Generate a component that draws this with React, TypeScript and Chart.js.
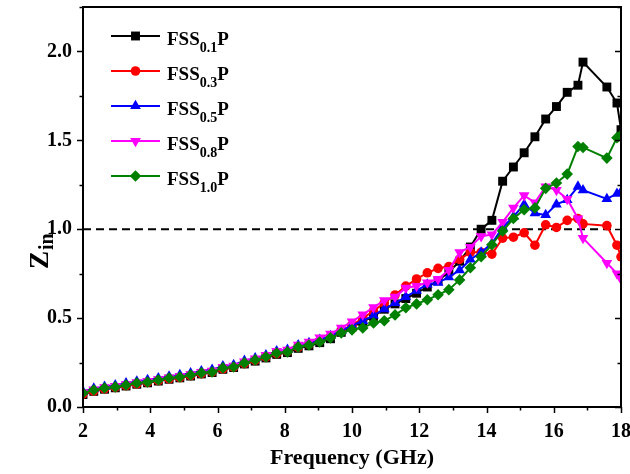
import React, { useEffect, useRef } from "react";
import { Chart, registerables } from "chart.js";

Chart.register(...registerables);

// Frequency (GHz)
const freq = [
  2.0, 2.32, 2.64, 2.96, 3.28, 3.6, 3.92, 4.24, 4.56, 4.88, 5.2, 5.52, 5.84, 6.16, 6.48, 6.8, 7.12,
  7.44, 7.76, 8.08, 8.4, 8.72, 9.04, 9.36, 9.68, 10.0, 10.32, 10.64, 10.96, 11.28, 11.6, 11.92,
  12.24, 12.56, 12.88, 13.2, 13.52, 13.84, 14.16, 14.48, 14.8, 15.12, 15.44, 15.76, 16.08, 16.4,
  16.72, 16.87, 17.58, 17.88, 18.0,
];

const fss01 = [
  0.07, 0.088, 0.1, 0.108, 0.118, 0.128, 0.136, 0.146, 0.156, 0.164, 0.174, 0.186, 0.194, 0.212,
  0.222, 0.242, 0.258, 0.276, 0.296, 0.306, 0.33, 0.344, 0.362, 0.384,
  0.42, 0.45, 0.48, 0.51, 0.55, 0.58, 0.61, 0.64,
  0.675, 0.71, 0.76, 0.82, 0.9, 1.0, 1.05, 1.27, 1.35, 1.43, 1.52, 1.62, 1.69, 1.77, 1.81, 1.94,
  1.8, 1.71, 1.56,
];
const fss03 = [
  0.072, 0.09, 0.102, 0.11, 0.12, 0.13, 0.138, 0.148, 0.158, 0.166, 0.176, 0.188, 0.196, 0.214,
  0.224, 0.244, 0.262, 0.28, 0.3, 0.312, 0.336, 0.352, 0.372, 0.396,
  0.43, 0.46, 0.5, 0.54, 0.585, 0.63, 0.68, 0.72,
  0.755, 0.78, 0.79, 0.83, 0.87, 0.87, 0.86, 0.95, 0.955, 0.98, 0.91, 1.025, 1.01, 1.05, 1.06,
  1.03, 1.02, 0.91, 0.845,
];
const fss05 = [
  0.088, 0.104, 0.114, 0.122, 0.134, 0.144, 0.152, 0.162, 0.172, 0.18, 0.19, 0.202, 0.21, 0.23,
  0.236, 0.26, 0.274, 0.292, 0.314, 0.322, 0.348, 0.36, 0.378, 0.4,
  0.43, 0.458, 0.485, 0.515, 0.55, 0.585, 0.62, 0.655,
  0.69, 0.7, 0.73, 0.77, 0.83, 0.87, 0.92, 1.01, 1.07, 1.14, 1.09, 1.08, 1.14, 1.165, 1.24,
  1.22, 1.17, 1.2, 1.21,
];
const fss08 = [
  0.082, 0.098, 0.11, 0.118, 0.128, 0.138, 0.146, 0.156, 0.166, 0.174, 0.184, 0.196, 0.204,
  0.224, 0.232, 0.256, 0.272, 0.292, 0.314, 0.322, 0.35, 0.366, 0.39, 0.412,
  0.445, 0.48, 0.52, 0.56, 0.6, 0.62, 0.67, 0.68,
  0.7, 0.72, 0.77, 0.87, 0.9, 0.96, 0.97, 1.04, 1.12, 1.19, 1.15, 1.24, 1.22, 1.17, 1.06, 0.95,
  0.81, 0.75, 0.72,
];
const fss10 = [
  0.079, 0.096, 0.107, 0.113, 0.124, 0.135, 0.141, 0.152, 0.163, 0.169, 0.18, 0.192, 0.197,
  0.22, 0.225, 0.248, 0.265, 0.282, 0.304, 0.31, 0.338, 0.349, 0.366, 0.389,
  0.417, 0.434, 0.445, 0.473, 0.485, 0.518, 0.558, 0.58,
  0.603, 0.631, 0.66, 0.715, 0.783, 0.845, 0.913, 0.99, 1.06, 1.11, 1.12, 1.23, 1.26, 1.31,
  1.465, 1.46, 1.4, 1.515, 1.53,
];

// Reference line Zin = 1
const refX = [2, 17.7];
const refY = [1, 1];

const xTickValues = [2, 4, 6, 8, 10, 12, 14, 16, 18];
const yTickValues = [0, 0.5, 1.0, 1.5, 2.0];

const seriesSubs = ["0.1", "0.3", "0.5", "0.8", "1.0"];
const seriesValues = [fss01, fss03, fss05, fss08, fss10];

const FONT = "'Liberation Serif', 'Times New Roman', serif";

const styles = [
  { color: "#000000", pointStyle: "rect", radius: 6.3, rotation: 0 },
  { color: "#ff0000", pointStyle: "circle", radius: 4.8, rotation: 0 },
  { color: "#0000ff", pointStyle: "triangle", radius: 6.2, rotation: 0 },
  { color: "#ff00ff", pointStyle: "triangle", radius: 6.2, rotation: 180 },
  { color: "#008000", pointStyle: "rectRot", radius: 5.8, rotation: 0 },
];

function drawMarker(ctx: CanvasRenderingContext2D, st: any, x: number, y: number) {
  const r = st.radius;
  ctx.beginPath();
  if (st.pointStyle === "rect") {
    const s = Math.SQRT1_2 * r;
    ctx.rect(x - s, y - s, 2 * s, 2 * s);
  } else if (st.pointStyle === "circle") {
    ctx.arc(x, y, r, 0, Math.PI * 2);
  } else if (st.pointStyle === "triangle") {
    let rad = (st.rotation * Math.PI) / 180;
    ctx.moveTo(x + Math.sin(rad) * r, y - Math.cos(rad) * r);
    rad += (2 * Math.PI) / 3;
    ctx.lineTo(x + Math.sin(rad) * r, y - Math.cos(rad) * r);
    rad += (2 * Math.PI) / 3;
    ctx.lineTo(x + Math.sin(rad) * r, y - Math.cos(rad) * r);
    ctx.closePath();
  } else {
    ctx.moveTo(x, y - r);
    ctx.lineTo(x + r, y);
    ctx.lineTo(x, y + r);
    ctx.lineTo(x - r, y);
    ctx.closePath();
  }
  ctx.fill();
}

const decorPlugin = {
  id: "decor",
  afterDraw(chart: any) {
    const { ctx, chartArea: ca, scales } = chart;
    const xs = scales.x;
    const ys = scales.y;
    ctx.save();
    ctx.strokeStyle = "#000";
    ctx.lineWidth = 2;
    ctx.strokeRect(ca.left, ca.top, ca.right - ca.left, ca.bottom - ca.top);

    ctx.lineWidth = 1.5;
    ctx.beginPath();
    for (let v = 2; v <= 18; v += 1) {
      const px = Math.round(xs.getPixelForValue(v)) + 0.5;
      const len = v % 2 === 0 ? 6 : 3.5;
      ctx.moveTo(px, ca.bottom);
      ctx.lineTo(px, ca.bottom + len);
    }
    for (let k = 0; k <= 9; k++) {
      const v = k * 0.25;
      const py = Math.round(ys.getPixelForValue(v)) + 0.5;
      const len = k % 2 === 0 ? 6 : 3.5;
      ctx.moveTo(ca.left, py);
      ctx.lineTo(ca.left - len, py);
      ctx.moveTo(ca.right, py);
      ctx.lineTo(ca.right - len, py);
    }
    ctx.stroke();

    // Legend
    const rowY0 = 36;
    const rowStep = 35;
    for (let i = 0; i < styles.length; i++) {
      const st = styles[i];
      const yRow = rowY0 + i * rowStep;
      ctx.strokeStyle = st.color;
      ctx.fillStyle = st.color;
      ctx.lineWidth = 2;
      ctx.beginPath();
      ctx.moveTo(111, yRow);
      ctx.lineTo(160, yRow);
      ctx.stroke();
      drawMarker(ctx, st, 135.5, yRow);

      ctx.fillStyle = "#000";
      ctx.textBaseline = "alphabetic";
      ctx.textAlign = "left";
      ctx.font = `bold 19px ${FONT}`;
      let tx = 167;
      ctx.fillText("FSS", tx, yRow + 9);
      tx += ctx.measureText("FSS").width;
      ctx.font = `bold 14px ${FONT}`;
      ctx.fillText(seriesSubs[i], tx, yRow + 15.5);
      tx += ctx.measureText(seriesSubs[i]).width;
      ctx.font = `bold 19px ${FONT}`;
      ctx.fillText("P", tx, yRow + 9);
    }

    // Y title Z_in
    ctx.save();
    ctx.fillStyle = "#000";
    ctx.translate(48, 269);
    ctx.rotate(-Math.PI / 2);
    ctx.textBaseline = "alphabetic";
    ctx.textAlign = "left";
    ctx.font = `bold 27px ${FONT}`;
    ctx.fillText("Z", 0, 0);
    const zw = ctx.measureText("Z").width;
    ctx.font = `bold 20px ${FONT}`;
    ctx.fillText("in", zw + 1, 5);
    ctx.restore();

    ctx.restore();
  },
};

export default function App() {
  const canvasRef = useRef<HTMLCanvasElement | null>(null);

  useEffect(() => {
    const canvas = canvasRef.current;
    if (!canvas) return;

    const datasets: any[] = seriesValues.map((vals, i) => ({
      label: "FSS" + seriesSubs[i] + "P",
      data: freq.map((f, j) => ({ x: f, y: vals[j] })),
      borderColor: styles[i].color,
      backgroundColor: styles[i].color,
      borderWidth: 2,
      pointStyle: styles[i].pointStyle,
      pointRadius: styles[i].radius,
      pointRotation: styles[i].rotation,
      pointBorderWidth: 0,
      pointBackgroundColor: styles[i].color,
      pointBorderColor: styles[i].color,
      tension: 0,
      order: 4 - i + 1,
    }));
    datasets.push({
      label: "ref",
      data: refX.map((x, j) => ({ x, y: refY[j] })),
      borderColor: "#000",
      borderWidth: 2,
      borderDash: [8, 5],
      pointRadius: 0,
      order: 10,
    });

    const chart = new Chart(canvas, {
      type: "line",
      data: { datasets },
      options: {
        animation: false,
        responsive: false,
        maintainAspectRatio: false,
        layout: { padding: { top: 7, right: 9, left: 0, bottom: 0 } },
        plugins: {
          legend: { display: false },
          tooltip: { enabled: false },
        },
        scales: {
          x: {
            type: "linear",
            min: 2,
            max: 18,
            grid: { display: false, drawTicks: false },
            border: { display: false },
            afterBuildTicks: (s: any) => {
              s.ticks = xTickValues.map((v) => ({ value: v }));
            },
            ticks: {
              color: "#000",
              font: { family: FONT, size: 20, weight: "bold" },
              padding: 13,
              maxRotation: 0,
              autoSkip: false,
              callback: (v: any) => String(v),
            },
            title: {
              display: true,
              text: "Frequency (GHz)",
              color: "#000",
              font: { family: FONT, size: 22, weight: "bold" },
              padding: 2,
            },
            afterFit: (s: any) => {
              s.height = 67;
              s.paddingLeft = 0;
              s.paddingRight = 0;
            },
          },
          y: {
            type: "linear",
            min: 0,
            max: 2.25,
            grid: { display: false, drawTicks: false },
            border: { display: false },
            afterBuildTicks: (s: any) => {
              s.ticks = yTickValues.map((v) => ({ value: v }));
            },
            ticks: {
              color: "#000",
              font: { family: FONT, size: 20, weight: "bold" },
              padding: 11,
              autoSkip: false,
              callback: (v: any) => Number(v).toFixed(1),
            },
            afterFit: (s: any) => {
              s.width = 83;
              s.paddingTop = 0;
              s.paddingBottom = 0;
            },
          },
        },
      } as any,
      plugins: [decorPlugin],
    });

    return () => chart.destroy();
  }, []);

  return (
    <div style={{ position: "absolute", left: 0, top: 0, width: 630, height: 474, background: "#fff" }}>
      <canvas ref={canvasRef} width={630} height={474} />
    </div>
  );
}
